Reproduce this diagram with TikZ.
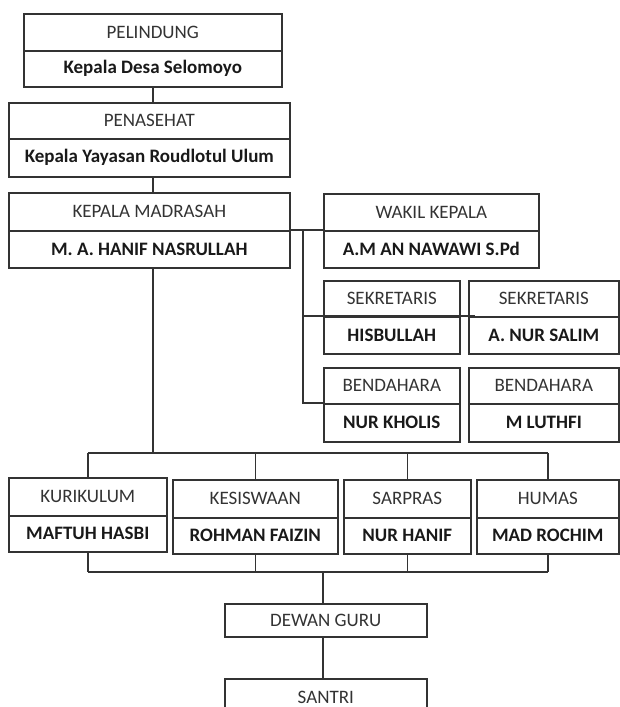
\documentclass[tikz,border=0pt]{standalone}
\usepackage{fontspec}
\setmainfont{Carlito}
\usetikzlibrary{calc}
\usetikzlibrary{positioning}

\tikzset{
  part/.style={draw=black!80, line width=1.6pt, inner sep=0pt, anchor=north west,
    text=black!80, font=\fontsize{19}{19}\selectfont},
  hdr/.style={part},
  nm/.style={part, text=black!90, font=\fontsize{19}{19}\selectfont\bfseries},
  link/.style={draw=black!80, line width=1.6pt},
}

% box of two rows: name, x1, x2, y1, y middle, y2, header, person
\newcommand{\orgbox}[8]{
  \node[hdr, minimum width={#3pt-#2pt}, minimum height={#5pt-#4pt}] (#1-h) at (#2,#4) {#7};
  \node[nm, minimum width={#3pt-#2pt}, minimum height={#6pt-#5pt}] (#1-n) at (#2,#5) {#8};
}

\begin{document}
\begin{tikzpicture}[x=1pt, y=-1pt]
\useasboundingbox (0,0) rectangle (619,707);

\orgbox{pel}{23}{281}{13}{50}{86}{PELINDUNG}{Kepala Desa Selomoyo}
\orgbox{pen}{8}{289}{102}{138}{176}{PENASEHAT}{Kepala Yayasan Roudlotul Ulum}
\orgbox{kep}{8}{289}{192}{230}{267}{KEPALA MADRASAH}{M. A. HANIF NASRULLAH}
\orgbox{wak}{323}{538}{193}{230}{267}{WAKIL KEPALA}{A.M AN NAWAWI S.Pd}
\orgbox{sekA}{323}{459}{280}{316}{353}{SEKRETARIS}{HISBULLAH}
\orgbox{sekB}{468}{618}{280}{316}{353}{SEKRETARIS}{A. NUR SALIM}
\orgbox{bndA}{323}{459}{367}{403}{441}{BENDAHARA}{NUR KHOLIS}
\orgbox{bndB}{468}{618}{367}{403}{441}{BENDAHARA}{M LUTHFI}

\orgbox{kur}{8}{166}{477}{515}{551}{KURIKULUM}{MAFTUH HASBI}
\orgbox{kes}{172}{337}{479}{517}{553}{KESISWAAN}{ROHMAN FAIZIN}
\orgbox{sar}{343}{470}{479}{517}{553}{SARPRAS}{NUR HANIF}
\orgbox{hum}{476}{618}{479}{517}{553}{HUMAS}{MAD ROCHIM}

\node[hdr, minimum width=202pt, minimum height=33pt] (dew) at (224,603) {DEWAN GURU};
\node[hdr, minimum width=202pt, minimum height=37pt] (san) at (224,678) {SANTRI};

% top line
\draw[link] (pel-n.south) -- (pel-n.south |- pen-h.north);
\draw[link] (pen-n.south -| pel-n.south) -- (kep-h.north -| pel-n.south);

% wakil, sekretaris, bendahara
\coordinate (rbus) at (303,230);
\draw[link] (kep-n.north east) -- (wak-n.north west);
\draw[link] (rbus) -- (rbus |- bndA-n.north) -- (bndA-n.north west);
\draw[link] (rbus |- sekA-n.north) -- ($(sekB-n.north west)+(7,0)$);

% seksi
\coordinate (tbus) at (153,453);
\coordinate (bbus) at (323,572);
\draw[link] (kep-n.south -| tbus) -- (tbus);
\draw[link] (kur-h.north |- tbus) -- (hum-h.north |- tbus);
\draw[link] (kur-n.south |- bbus) -- (hum-n.south |- bbus);
\foreach \s in {kur,kes,sar,hum} {
  \draw[link] (\s-h.north |- tbus) -- (\s-h.north);
  \draw[link] (\s-n.south) -- (\s-n.south |- bbus);
}

% dewan guru, santri
\draw[link] (bbus) -- (bbus |- dew.north);
\draw[link] (dew.south -| bbus) -- (san.north -| bbus);
\end{tikzpicture}
\end{document}
